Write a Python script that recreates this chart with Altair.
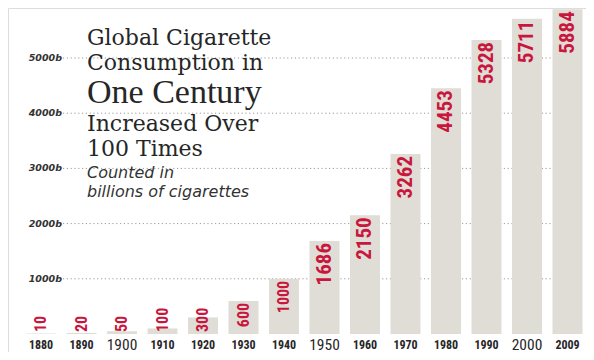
import altair as alt
import pandas as pd

# ---- data ----
years = ["1880", "1890", "1900", "1910", "1920", "1930", "1940",
         "1950", "1960", "1970", "1980", "1990", "2000", "2009"]
values = [10, 20, 50, 100, 300, 600, 1000, 1686, 2150, 3262, 4453, 5328, 5711, 5884]
big_years = ["1900", "1950", "2000"]
grid_values = [1000, 2000, 3000, 4000, 5000]
grid_labels = ["1000b", "2000b", "3000b", "4000b", "5000b"]
title_lines = ["Global Cigarette", "Consumption in", "One Century",
               "Increased Over", "100 Times"]
subtitle_lines = ["Counted in", "billions of cigarettes"]

df = pd.DataFrame({"year": years, "value": values})
df["big"] = df["year"].isin(big_years)
grid = pd.DataFrame({"g": grid_values, "lab": grid_labels})

W, H = 578, 344
BAR = "#e0ddd7"
RED = "#c8163c"
INK = "#262626"
NARROW = "Roboto Condensed, Noto Sans Condensed, Liberation Sans Narrow, DejaVu Sans Condensed, sans-serif"

xscale = alt.Scale(domain=years, range=[12.75, 579.75], paddingInner=0.26, paddingOuter=0.13)
yscale = alt.Scale(domain=[0, 5000], range=[326, 50], nice=False, zero=True)

X = alt.X("year:N", scale=xscale, axis=None, sort=years)

gridlines = alt.Chart(grid).mark_rule(color="#9a9a9a", strokeDash=[1.2, 2.6], strokeWidth=1).encode(
    y=alt.Y("g:Q", scale=yscale, axis=None),
    x=alt.value(55), x2=alt.value(574),
)
gridtext = alt.Chart(grid).mark_text(
    align="right", baseline="middle", font="DejaVu Sans", fontStyle="italic",
    fontWeight="bold", fontSize=9.5, color="#333333"
).encode(
    y=alt.Y("g:Q", scale=yscale, axis=None),
    x=alt.value(54),
    text="lab:N",
)

bars = alt.Chart(df).mark_bar(color=BAR).encode(
    x=X,
    y=alt.Y("value:Q", scale=yscale, axis=None),
)

size_cond = alt.condition(alt.datum.value > 1000, alt.value(21), alt.value(16))

labels_top = alt.Chart(df).transform_filter(alt.datum.value >= 600).mark_text(
    angle=270, align="right", baseline="middle", font=NARROW, fontWeight="bold",
    color=RED, dx=-2
).encode(
    x=X,
    y=alt.Y("value:Q", scale=yscale, axis=None),
    text="value:Q",
    size=size_cond,
)
labels_low = alt.Chart(df).transform_filter(alt.datum.value < 600).mark_text(
    angle=270, align="left", baseline="middle", font=NARROW, fontWeight="bold",
    color=RED, dx=2, fontSize=16
).encode(
    x=X,
    y=alt.value(326),
    text="value:Q",
)

years_small = alt.Chart(df).transform_filter(~alt.datum.big).mark_text(
    align="center", baseline="alphabetic", font=NARROW, fontWeight="bold",
    fontSize=12, color=INK
).encode(x=X, y=alt.value(340.5), text="year:N")
years_big = alt.Chart(df).transform_filter(alt.datum.big).mark_text(
    align="center", baseline="alphabetic", font=NARROW,
    fontSize=15.5, color=INK
).encode(x=X, y=alt.value(341.5), text="year:N")

def line(txt, y, font, size, style="normal", color=INK):
    return alt.Chart(pd.DataFrame({"t": [txt]})).mark_text(
        align="left", baseline="alphabetic", font=font, fontSize=size,
        fontStyle=style, color=color
    ).encode(x=alt.value(79), y=alt.value(y), text="t:N")

SLAB = "DejaVu Serif"
titles = [
    line(title_lines[0], 37, SLAB, 22),
    line(title_lines[1], 62, SLAB, 22),
    line(title_lines[2], 95, "Liberation Serif", 34),
    line(title_lines[3], 123, SLAB, 22),
    line(title_lines[4], 148, SLAB, 22),
    line(subtitle_lines[0], 170, "DejaVu Sans", 16, "italic", "#333333"),
    line(subtitle_lines[1], 189, "DejaVu Sans", 16, "italic", "#333333"),
]

chart = alt.layer(
    gridlines, bars, gridtext, labels_top, labels_low, years_small, years_big, *titles
).properties(
    width=W, height=H, autosize=alt.AutoSizeParams(type="none"), padding=0
).configure_view(stroke=None).configure(background="white")

chart.save("out.html", embed_options={"renderer": "svg", "actions": False})
